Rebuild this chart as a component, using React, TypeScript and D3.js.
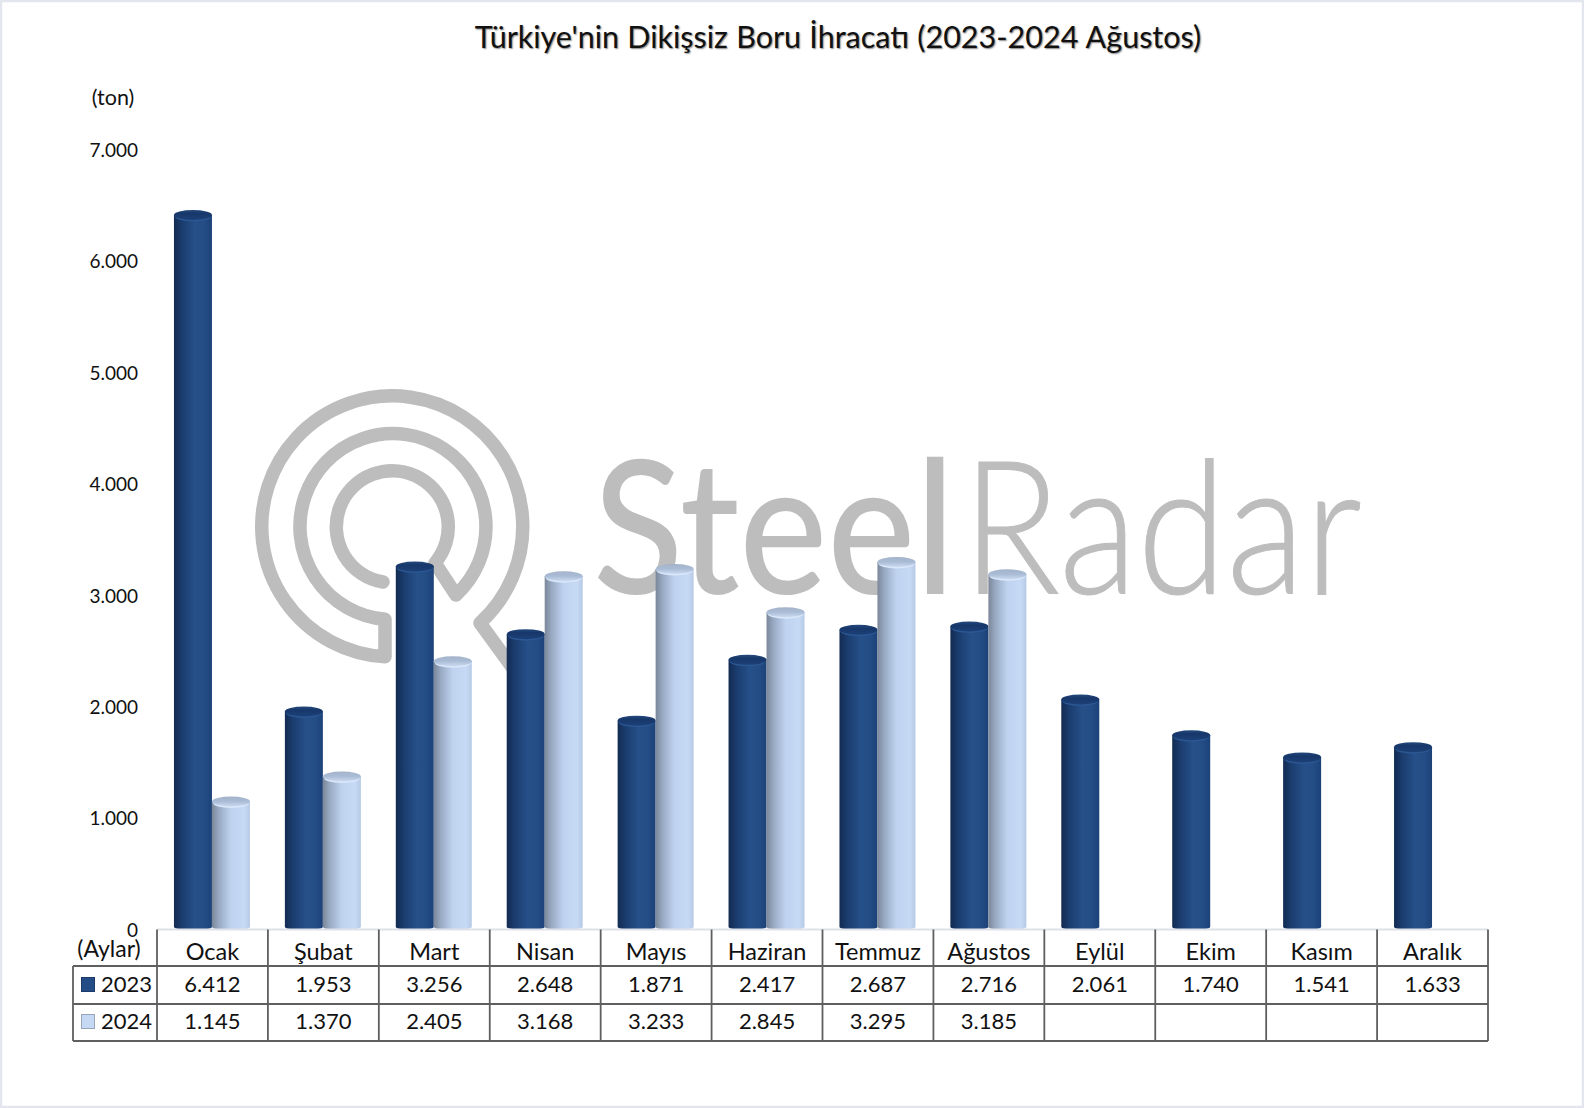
import * as d3 from 'd3';
import { useEffect, useRef } from 'react';

const months = ['Ocak', 'Şubat', 'Mart', 'Nisan', 'Mayıs', 'Haziran', 'Temmuz', 'Ağustos', 'Eylül', 'Ekim', 'Kasım', 'Aralık'];
const values2023 = [6412, 1953, 3256, 2648, 1871, 2417, 2687, 2716, 2061, 1740, 1541, 1633];
const values2024 = [1145, 1370, 2405, 3168, 3233, 2845, 3295, 3185];
const yTicks = [0, 1000, 2000, 3000, 4000, 5000, 6000, 7000];
const seriesNames = ['2023', '2024'];

const FONT = 'Lato, Carlito, sans-serif';
const GREY = '#bdbdbd';
const LINE = '#5f5f5f';

const trFormat = d3.formatLocale({ decimal: ',', thousands: '.', grouping: [3], currency: ['', ''] }).format(',d');

const App = () => {
    const ref = useRef<any>();

    useEffect(() => {
        const width = 1584;
        const height = 1108;
        const svg = d3.select<any, any>(ref.current);
        svg.selectAll('*').remove();

        // table geometry, the x axis of the chart is the table header
        const tableLeft = 73;
        const tableFirst = 157;
        const tableRight = 1488;
        const rowY = [929.5, 966, 1004, 1041];

        const x = d3.scaleBand<string>().domain(months).range([tableFirst, tableRight]);
        const y = d3.scaleLinear().domain([0, 7000]).range([929, 149.5]);
        const barW = 38;

        const defs = svg.append('defs');
        const gradient = (id: string, stops: [number, string][], vertical = false) => {
            const g = defs.append('linearGradient').attr('id', id)
                .attr('x1', 0).attr('x2', vertical ? 0 : 1).attr('y1', 0).attr('y2', vertical ? 1 : 0);
            stops.forEach(([o, c]) => g.append('stop').attr('offset', o).attr('stop-color', c));
        };
        gradient('dark', [[0, '#122b52'], [0.22, '#1b3d6f'], [0.55, '#265089'], [0.8, '#244d85'], [1, '#1c4278']]);
        gradient('light', [[0, '#7b8799'], [0.18, '#98a9c2'], [0.5, '#bfd3f0'], [0.85, '#c6daf6'], [1, '#b6cae6']]);
        gradient('darkTop', [[0, '#254a7e'], [0.35, '#17376a'], [1, '#1c4077']], true);
        gradient('lightTop', [[0, '#a3b3c9'], [0.5, '#aabcd6'], [1, '#cbdaf0']], true);

        svg.append('rect').attr('x', 1).attr('y', 1).attr('width', width - 2).attr('height', height - 2)
            .attr('fill', '#fff').attr('stroke', '#e3e6ef').attr('stroke-width', 2.5);

        // watermark
        const mark = svg.append('g').attr('class', 'watermark');
        mark.append('path')
            .attr('d', 'M383 582 A56 56 0 1 1 435 563 L456 595 A93 93 0 1 0 385 619.3 L385 656.7 A130.5 130.5 0 1 1 480 623 L512 667')
            .attr('fill', 'none').attr('stroke', GREY).attr('stroke-width', 13.5)
            .attr('stroke-linejoin', 'round').attr('stroke-linecap', 'round');
        mark.append('text').text('Steel').attr('x', 593).attr('y', 594)
            .attr('textLength', 362).attr('lengthAdjust', 'spacingAndGlyphs')
            .style('font', `500 186px ${FONT}`).attr('fill', GREY);
        mark.append('text').text('Radar').attr('x', 962).attr('y', 594)
            .attr('textLength', 400).attr('lengthAdjust', 'spacingAndGlyphs')
            .style('font', `300 186px ${FONT}`).attr('fill', GREY)
            .attr('stroke', GREY).attr('stroke-width', 1);

        svg.append('text').text("Türkiye'nin Dikişsiz Boru İhracatı (2023-2024 Ağustos)")
            .attr('x', 838).attr('y', 48).attr('text-anchor', 'middle')
            .style('font', `400 30.5px ${FONT}`).style('word-spacing', '0.5px').attr('fill', '#111')
            .style('text-shadow', '1px 1px 1.5px #888');

        svg.append('text').text('(ton)').attr('x', 113).attr('y', 105).attr('text-anchor', 'middle')
            .style('font', `400 21.5px ${FONT}`).attr('fill', '#111');

        // y axis, only the labels are visible
        const yAxis = d3.axisLeft(y).tickValues(yTicks).tickSize(0).tickPadding(0).tickFormat((d: any) => trFormat(d));
        const yG = svg.append('g').attr('transform', 'translate(138,1)').call(yAxis);
        yG.select('.domain').remove();
        yG.selectAll('text').style('font', `400 19px ${FONT}`).attr('fill', '#111');

        // cylinders
        const cylinder = (cls: string, data: number[], offset: number, body: string, top: string, rim: string) => {
            const rx = barW / 2;
            const ry = 5;
            const g = svg.append('g').attr('class', cls);
            const bars = g.selectAll('g').data(data).join('g')
                .attr('transform', (d, i) => `translate(${x(months[i])! + x.bandwidth() / 2 + offset},0)`);
            bars.append('path').attr('fill', `url(#${body})`).attr('d', (d) => {
                const yTop = y(d);
                const yBase = y(0) - 2;
                return `M${-rx} ${yTop}L${-rx} ${yBase}A${rx} 3 0 0 0 ${rx} ${yBase}L${rx} ${yTop}Z`;
            });
            bars.append('ellipse').attr('cx', 0).attr('cy', (d) => y(d) + 1.5).attr('rx', rx - 1).attr('ry', ry)
                .attr('fill', rim);
            bars.append('ellipse').attr('cx', 0).attr('cy', (d) => y(d)).attr('rx', rx).attr('ry', ry)
                .attr('fill', `url(#${top})`);
        };
        cylinder('s2023', values2023, -barW / 2 - 0.5, 'dark', 'darkTop', '#2b5793');
        cylinder('s2024', values2024, barW / 2 - 0.5, 'light', 'lightTop', '#dbe8fa');

        // data table
        const table = svg.append('g').attr('class', 'table');
        table.append('line').attr('x1', tableFirst).attr('x2', tableRight).attr('y1', rowY[0]).attr('y2', rowY[0])
            .attr('stroke', '#dfe1e8').attr('stroke-width', 2);
        rowY.slice(1).forEach((ry) => {
            table.append('line').attr('x1', tableLeft).attr('x2', tableRight).attr('y1', ry).attr('y2', ry)
                .attr('stroke', LINE).attr('stroke-width', 1.8);
        });
        table.append('line').attr('x1', tableLeft).attr('x2', tableLeft).attr('y1', rowY[1]).attr('y2', rowY[3])
            .attr('stroke', LINE).attr('stroke-width', 1.8);
        [...x.domain().map((m) => x(m)!), tableRight].forEach((vx) => {
            table.append('line').attr('x1', vx).attr('x2', vx).attr('y1', rowY[0]).attr('y2', rowY[3])
                .attr('stroke', LINE).attr('stroke-width', 1.8);
        });

        const cell = (t: string, cx: number, cy: number, size: number, anchor = 'middle') => table.append('text').text(t)
            .attr('x', cx).attr('y', cy).attr('text-anchor', anchor)
            .style('font', `400 ${size}px ${FONT}`).attr('fill', '#111');

        cell('(Aylar)', 109, 957, 23);
        months.forEach((m) => cell(m, x(m)! + x.bandwidth() / 2, 959.5, 23.5));
        values2023.forEach((v, i) => cell(trFormat(v), x(months[i])! + x.bandwidth() / 2, 992, 22));
        values2024.forEach((v, i) => cell(trFormat(v), x(months[i])! + x.bandwidth() / 2, 1029, 22));

        seriesNames.forEach((name, i) => {
            const base = i === 0 ? 992 : 1029;
            cell(name, 101, base, 22, 'start');
            table.append('rect').attr('x', 81.5).attr('y', base - 14.5).attr('width', 13).attr('height', 14)
                .attr('fill', i === 0 ? '#234c86' : '#c5d9f5')
                .attr('stroke', i === 0 ? '#1b3a68' : '#98a5b8').attr('stroke-width', 1);
        });
    }, []);

    return <svg ref={ref} width={1584} height={1108} style={{ position: 'absolute', left: 0, top: 0, display: 'block' }}></svg>;
};

export default App;
